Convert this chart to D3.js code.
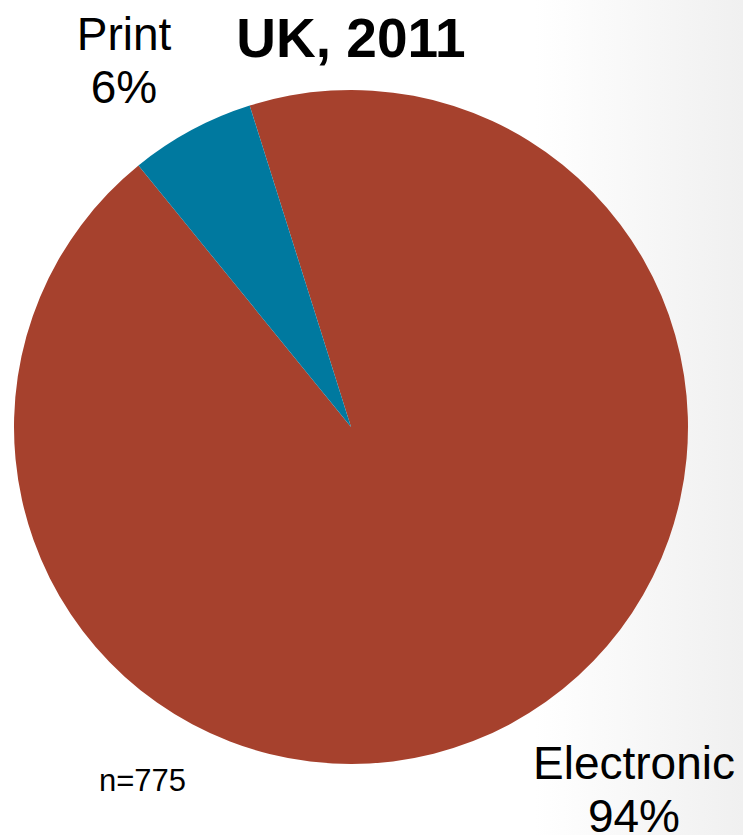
<!DOCTYPE html>
<html>
<head>
<meta charset="utf-8">
<script src="https://cdn.jsdelivr.net/npm/d3@7"></script>
<style>
  html, body { margin: 0; padding: 0; background: #fff; }
  svg { display: block; font-family: "Liberation Sans", Arial, sans-serif; }
</style>
</head>
<body>
<svg id="chart" width="743" height="835"></svg>
<script>
// Chart data
const categories = ["Electronic", "Print"];
const shares = [94, 6];
const colors = ["#a6412d", "#00799f"];
const title = "UK, 2011";
const note = "n=775";

const width = 743, height = 835;
const cx = 351, cy = 427, radius = 337;

const svg = d3.select("#chart");

// faint grey shading on the right side of the slide
const defs = svg.append("defs");
const grad = defs.append("linearGradient")
    .attr("id", "bg")
    .attr("x1", "0").attr("x2", "1").attr("y1", "0").attr("y2", "0");
grad.append("stop").attr("offset", "0.72").attr("stop-color", "#ffffff");
grad.append("stop").attr("offset", "1").attr("stop-color", "#f0f0f0");

svg.append("rect")
    .attr("width", width)
    .attr("height", height)
    .attr("fill", "url(#bg)");

const start = -17.5 * Math.PI / 180;
const pie = d3.pie()
    .sort(null)
    .startAngle(start)
    .endAngle(start + 2 * Math.PI);

const arc = d3.arc().innerRadius(0).outerRadius(radius);

const slices = pie(shares);

svg.append("g")
    .attr("transform", `translate(${cx},${cy})`)
    .selectAll("path")
    .data(slices)
    .enter()
    .append("path")
    .attr("d", arc)
    .attr("fill", (d, i) => colors[i]);

// title
svg.append("text")
    .attr("x", 351)
    .attr("y", 57)
    .attr("text-anchor", "middle")
    .attr("font-size", 55)
    .attr("font-weight", "bold")
    .attr("fill", "#000")
    .text(title);

// slice labels
const labelPos = [
    { x: 634, y: 779 },  // Electronic
    { x: 124, y: 50 }    // Print
];

categories.forEach((name, i) => {
    const t = svg.append("text")
        .attr("text-anchor", "middle")
        .attr("font-size", 46)
        .attr("fill", "#000");
    t.append("tspan")
        .attr("x", labelPos[i].x)
        .attr("y", labelPos[i].y)
        .text(name);
    t.append("tspan")
        .attr("x", labelPos[i].x)
        .attr("y", labelPos[i].y + 53)
        .text(shares[i] + "%");
});

svg.append("text")
    .attr("x", 99)
    .attr("y", 791)
    .attr("font-size", 31)
    .attr("fill", "#000")
    .text(note);
</script>
</body>
</html>
